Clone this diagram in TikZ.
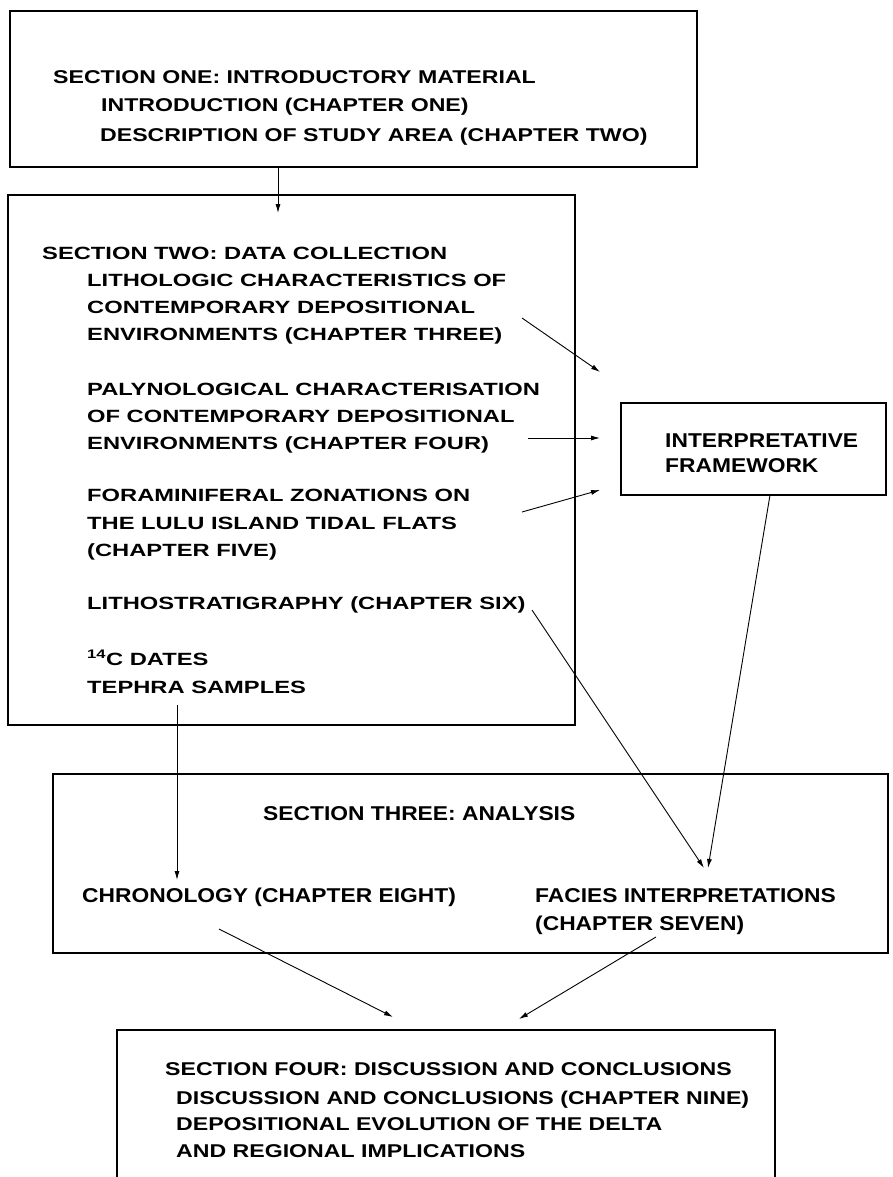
\documentclass[tikz,border=0pt]{standalone}
\usepackage{fontspec}
\usetikzlibrary{arrows.meta}
\newfontfamily\fone{Liberation Sans}[FakeStretch=1.25]
\newfontfamily\ftwo{Liberation Sans}[FakeStretch=1.34]
\newfontfamily\fthree{Liberation Sans}[FakeStretch=1.14]
\begin{document}
\begin{tikzpicture}[x=1pt,y=-1pt,
  box/.style={draw, line width=1.3pt, inner sep=0pt, rectangle},
  ta/.style={anchor=base west, inner sep=0pt, font=\fone\bfseries\fontsize{18.5}{20}\selectfont},
  tb/.style={anchor=base west, inner sep=0pt, font=\ftwo\bfseries\fontsize{17.7}{20}\selectfont},
  tc/.style={anchor=base west, inner sep=0pt, font=\fthree\bfseries\fontsize{20}{22}\selectfont},
  arr/.style={-{Latex[length=9pt,width=5pt]}, line width=0.9pt},
  ln/.style={line width=0.9pt}]
\useasboundingbox (0,0) rectangle (892,1177);
\fill[white] (0,0) rectangle (892,1177);
\clip (0,0) rectangle (892,1177);

% boxes
\node[box, minimum width=687pt, minimum height=156pt] (b1) at (353.5,89) {};
\node[box, minimum width=567pt, minimum height=530pt] (b2) at (291.5,460) {};
\node[box, minimum width=265pt, minimum height=92pt] (b3) at (753.5,449) {};
\node[box, minimum width=835pt, minimum height=179pt] (b4) at (470.5,863.5) {};
\node[box, minimum width=658pt, minimum height=170pt] (b5) at (446,1115) {};

% section one
\node[ta] (s1a) at (53,84) {SECTION ONE: INTRODUCTORY MATERIAL};
\node[ta] (s1b) at (101,112) {INTRODUCTION (CHAPTER ONE)};
\node[ta] (s1c) at (100,142) {DESCRIPTION OF STUDY AREA (CHAPTER TWO)};

% section two
\node[tb] (s2a) at (42,259) {SECTION TWO: DATA COLLECTION};
\node[tb] (s2b) at (87,286) {LITHOLOGIC CHARACTERISTICS OF};
\node[tb] (s2c) at (87,313) {CONTEMPORARY DEPOSITIONAL};
\node[tb] (s2d) at (87,340) {ENVIRONMENTS (CHAPTER THREE)};
\node[tb] (s2e) at (87,395) {PALYNOLOGICAL CHARACTERISATION};
\node[tb] (s2f) at (87,422) {OF CONTEMPORARY DEPOSITIONAL};
\node[tb] (s2g) at (87,449) {ENVIRONMENTS (CHAPTER FOUR)};
\node[tb] (s2h) at (87,501) {FORAMINIFERAL ZONATIONS ON};
\node[tb] (s2i) at (87,529) {THE LULU ISLAND TIDAL FLATS};
\node[tb] (s2j) at (87,556) {(CHAPTER FIVE)};
\node[tb] (s2k) at (87,609) {LITHOSTRATIGRAPHY (CHAPTER SIX)};
\node[tb] (s2l) at (87,665) {\textsuperscript{14}C DATES};
\node[tb] (s2m) at (87,693) {TEPHRA SAMPLES};

% interpretative framework
\node[tc] (ifa) at (665,447) {INTERPRETATIVE};
\node[tc] (ifb) at (665,472) {FRAMEWORK};

% section three
\node[tc] (s3a) at (263,820) {SECTION THREE: ANALYSIS};
\node[tc] (s3b) at (82,902) {CHRONOLOGY (CHAPTER EIGHT)};
\node[tc] (s3c) at (535,902) {FACIES INTERPRETATIONS};
\node[tc] (s3d) at (535,930) {(CHAPTER SEVEN)};

% section four
\node[ta] (s4a) at (165,1075) {SECTION FOUR: DISCUSSION AND CONCLUSIONS};
\node[ta] (s4b) at (176,1104) {DISCUSSION AND CONCLUSIONS (CHAPTER NINE)};
\node[ta] (s4c) at (176,1130) {DEPOSITIONAL EVOLUTION OF THE DELTA};
\node[ta] (s4d) at (176,1157) {AND REGIONAL IMPLICATIONS};

% connector end points
\coordinate (c1s) at (278,167);
\coordinate (c1e) at (278,213);
\coordinate (c2s) at (522,318);
\coordinate (c2e) at (600,372);
\coordinate (c3s) at (528,438);
\coordinate (c3e) at (600,438);
\coordinate (c4s) at (522,512);
\coordinate (c4e) at (600,490);
\coordinate (c5s) at (532,610);
\coordinate (c5e) at (704,868);
\coordinate (c6s) at (770,495);
\coordinate (c6e) at (708,868);
\coordinate (c7s) at (177,705);
\coordinate (c7e) at (177,880);
\coordinate (c8s) at (219,929);
\coordinate (c8e) at (393,1017);
\coordinate (c9s) at (656,937);
\coordinate (c9e) at (519,1019);

\draw[arr] (c1s) -- (c1e);
\draw[arr] (c2s) -- (c2e);
\draw[arr] (c3s) -- (c3e);
\draw[arr] (c4s) -- (c4e);
\draw[arr] (c5s) -- (c5e);
\draw[arr] (c6s) -- (c6e);
\draw[arr] (c7s) -- (c7e);
\draw[arr] (c8s) -- (c8e);
\draw[arr] (c9s) -- (c9e);
\end{tikzpicture}
\end{document}
